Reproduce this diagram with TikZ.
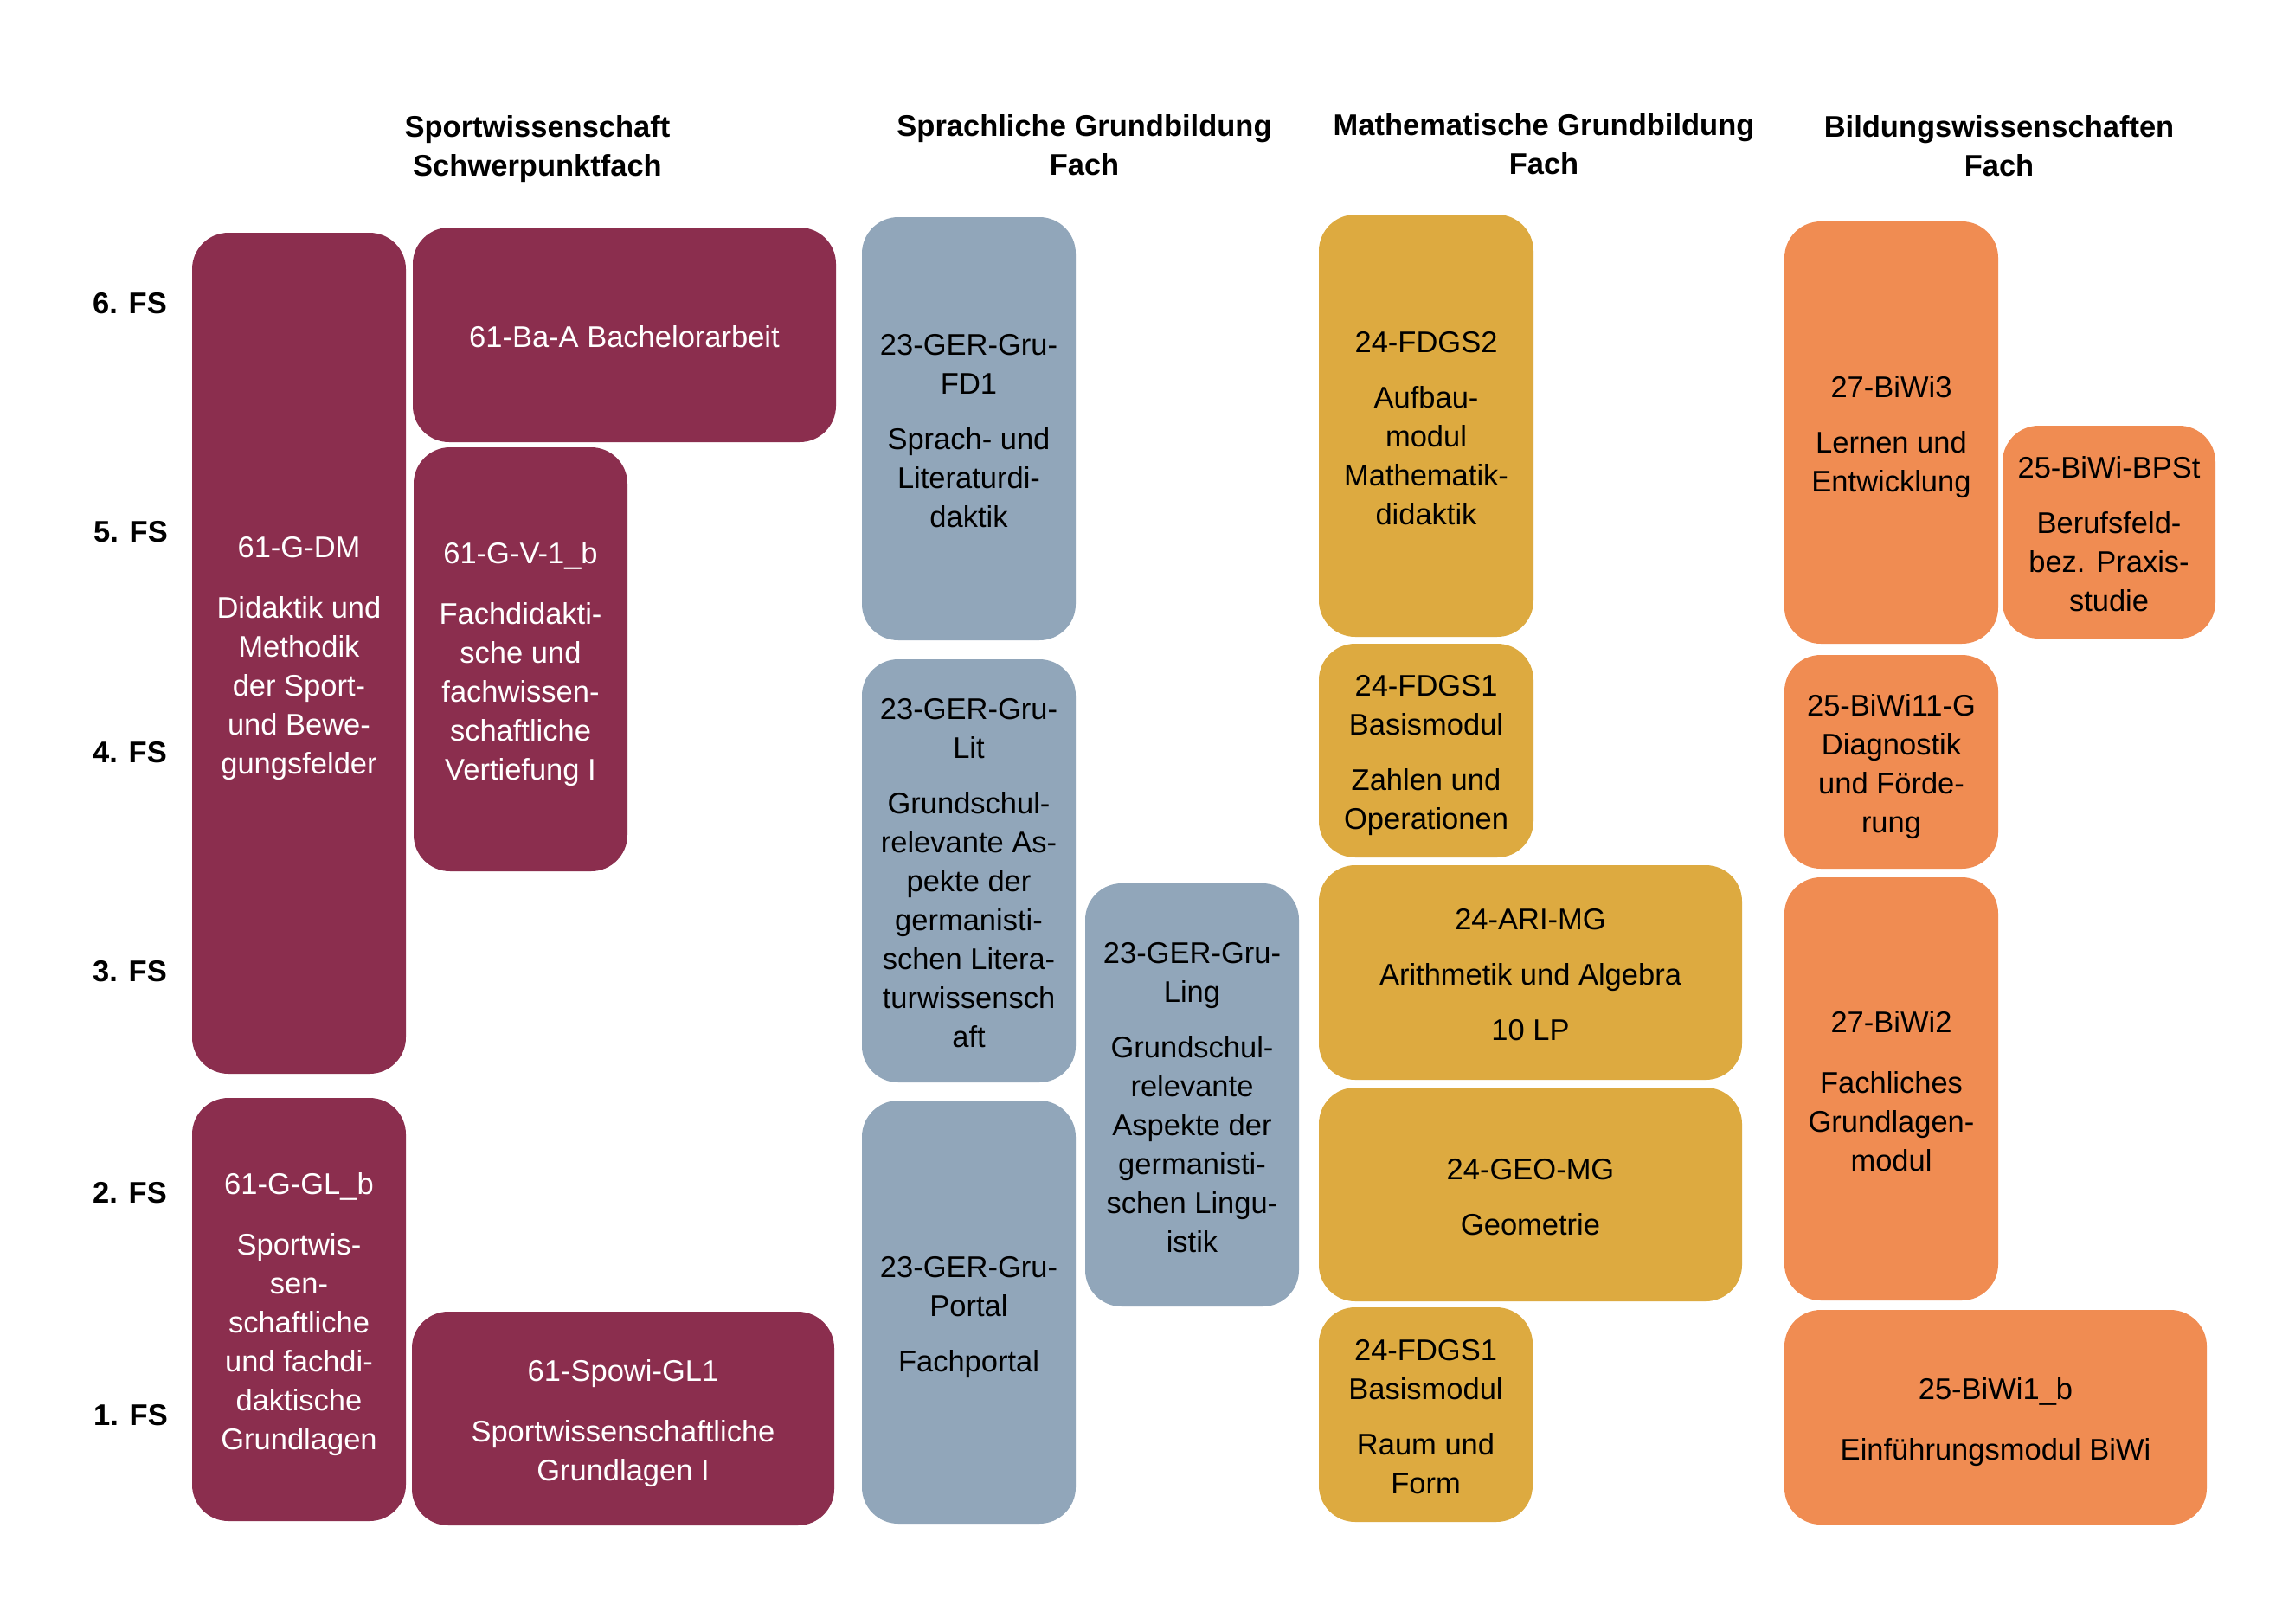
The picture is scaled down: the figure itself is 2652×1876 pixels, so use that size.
\documentclass[tikz,border=0pt]{standalone}
\usepackage{fontspec}
\setmainfont{Liberation Sans}
\definecolor{cSport}{RGB}{139,46,78}
\definecolor{cSprach}{RGB}{145,166,186}
\definecolor{cMath}{RGB}{221,170,64}
\definecolor{cBiwi}{RGB}{240,140,82}
\newcommand\mystrut{\rule[-7pt]{0pt}{33pt}}
\newcommand\ts{\rule[-7pt]{0pt}{43pt}}
\newcommand\botstrut{\rule[-7pt]{0pt}{7pt}}
\newcommand\modfont{\fontsize{34.5pt}{45pt}\selectfont}
\newcommand\hdrfont{\fontsize{34.5pt}{45pt}\selectfont\bfseries}
\tikzset{
  modbox/.style={rounded corners=42pt, inner sep=0pt, outer sep=0pt, align=center,
    font=\modfont, execute at end node=\botstrut},
  sportbox/.style={modbox, fill=cSport, text=white},
  sprachbox/.style={modbox, fill=cSprach, text=black},
  mathbox/.style={modbox, fill=cMath, text=black},
  biwibox/.style={modbox, fill=cBiwi, text=black},
  hdr/.style={anchor=north, align=center, inner sep=0pt, font=\hdrfont,
    execute at begin node=\mystrut},
  fslabel/.style={anchor=base east, inner sep=0pt, font=\hdrfont},
}
\begin{document}
\begin{tikzpicture}[x=1pt,y=-1pt]
\fill[white] (0,0) rectangle (2652,1876);
\useasboundingbox (0,0) rectangle (2652,1876);

% headers
\node[hdr] (h1) at (621,133) {Sportwissenschaft\\Schwerpunktfach};
\node[hdr] (h2) at (1253,132) {Sprachliche Grundbildung\\Fach};
\node[hdr] (h3) at (1784,131) {Mathematische Grundbildung\\Fach};
\node[hdr] (h4) at (2310,133) {Bildungswissenschaften\\Fach};

% semester labels
\node[fslabel] (fs6) at (193,362) {6. FS};
\node[fslabel] (fs5) at (194,626) {5. FS};
\node[fslabel] (fs4) at (193,881) {4. FS};
\node[fslabel] (fs3) at (193,1134) {3. FS};
\node[fslabel] (fs2) at (193,1390) {2. FS};
\node[fslabel] (fs1) at (194,1647) {1. FS};

% Sportwissenschaft
\node[sportbox, minimum width=247pt, minimum height=972pt] (dm) at (345.5,755)
  {\ts 61-G-DM\\[25pt]Didaktik und\\Methodik\\der Sport-\\und Bewe-\\gungsfelder};
\node[sportbox, minimum width=489pt, minimum height=248pt] (baa) at (721.5,387)
  {\ts 61-Ba-A Bachelorarbeit};
\node[sportbox, minimum width=247pt, minimum height=490pt] (v1) at (601.5,762)
  {\ts 61-G-V-1\_b\\[25pt]Fachdidakti-\\sche und\\fachwissen-\\schaftliche\\Vertiefung I};
\node[sportbox, minimum width=247pt, minimum height=489pt] (glb) at (345.5,1513.5)
  {\ts 61-G-GL\_b\\[25pt]Sportwis-\\sen-\\schaftliche\\und fachdi-\\daktische\\Grundlagen};
\node[sportbox, minimum width=488pt, minimum height=247pt] (spowi) at (720,1639.5)
  {\ts 61-Spowi-GL1\\[25pt]Sportwissenschaftliche\\Grundlagen I};

% Sprachliche Grundbildung
\node[sprachbox, minimum width=247pt, minimum height=489pt] (fd1) at (1119.5,495.5)
  {\ts 23-GER-Gru-\\FD1\\[19pt]Sprach- und\\Literaturdi-\\daktik};
\node[sprachbox, minimum width=247pt, minimum height=489pt] (lit) at (1119.5,1006.5)
  {\ts 23-GER-Gru-\\Lit\\[19pt]Grundschul-\\relevante As-\\pekte der\\germanisti-\\schen Litera-\\turwissensch\\aft};
\node[sprachbox, minimum width=247pt, minimum height=489pt] (portal) at (1119.5,1516.5)
  {\ts 23-GER-Gru-\\Portal\\[19pt]Fachportal};
\node[sprachbox, minimum width=247pt, minimum height=489pt] (ling) at (1377.5,1265.5)
  {\ts 23-GER-Gru-\\Ling\\[19pt]Grundschul-\\relevante\\Aspekte der\\germanisti-\\schen Lingu-\\istik};

% Mathematische Grundbildung
\node[mathbox, minimum width=248pt, minimum height=488pt] (fdgs2) at (1648,492)
  {\ts 24-FDGS2\\[19pt]Aufbau-\\modul\\Mathematik-\\didaktik};
\node[mathbox, minimum width=248pt, minimum height=247pt] (fdgs1a) at (1648,867.5)
  {\ts 24-FDGS1\\Basismodul\\[19pt]Zahlen und\\Operationen};
\node[mathbox, minimum width=489pt, minimum height=248pt] (ari) at (1768.5,1124)
  {\ts 24-ARI-MG\\[19pt]Arithmetik und Algebra\\[19pt]10 LP};
\node[mathbox, minimum width=489pt, minimum height=247pt] (geo) at (1768.5,1380.5)
  {\ts 24-GEO-MG\\[19pt]Geometrie};
\node[mathbox, minimum width=247pt, minimum height=248pt] (fdgs1b) at (1647.5,1635)
  {\ts 24-FDGS1\\Basismodul\\[19pt]Raum und\\Form};

% Bildungswissenschaften
\node[biwibox, minimum width=247pt, minimum height=488pt] (biwi3) at (2185.5,500)
  {\ts 27-BiWi3\\[19pt]Lernen und\\Entwicklung};
\node[biwibox, minimum width=246pt, minimum height=246pt] (bpst) at (2437,615)
  {\ts 25-BiWi-BPSt\\[19pt]Berufsfeld-\\bez. Praxis-\\studie};
\node[biwibox, minimum width=247pt, minimum height=247pt] (biwi11) at (2185.5,880.5)
  {\ts 25-BiWi11-G\\Diagnostik\\und Förde-\\rung};
\node[biwibox, minimum width=247pt, minimum height=489pt] (biwi2) at (2185.5,1258.5)
  {\ts 27-BiWi2\\[25pt]Fachliches\\Grundlagen-\\modul};
\node[biwibox, minimum width=488pt, minimum height=248pt] (biwi1b) at (2306,1638)
  {\ts 25-BiWi1\_b\\[25pt]Einführungsmodul BiWi};
\end{tikzpicture}
\end{document}
